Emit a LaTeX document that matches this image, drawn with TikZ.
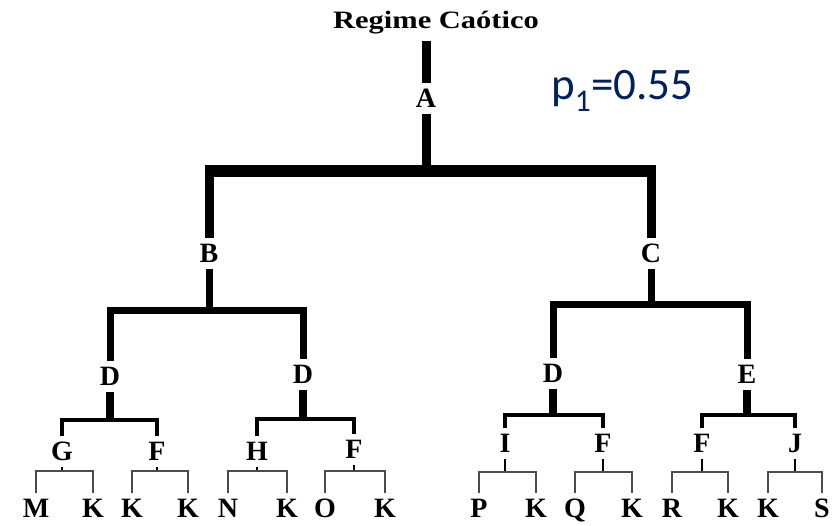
\documentclass[tikz,border=0pt]{standalone}
\usepackage{fontspec}
\setmainfont{Liberation Serif}
\newfontfamily\calibri{Carlito}
\usepackage{xcolor}
\usetikzlibrary{positioning}
\definecolor{navy}{HTML}{002060}

\tikzset{
  letter/.style={font=\fontsize{28}{28}\selectfont\bfseries, inner xsep=0pt, inner ysep=6pt, anchor=base},
  heading/.style={font=\fontsize{25}{25}\selectfont\bfseries, inner sep=6pt, anchor=base},
  lvlone/.style={line width=9pt},
  topbar/.style={line width=12pt},
  lvltwo/.style={line width=7pt},
  stemthree/.style={line width=8pt},
  barthree/.style={line width=4.5pt},
  stemfour/.style={line width=2.5pt},
  leaf/.style={line width=1.8pt, black!70},
}

\begin{document}
\begin{tikzpicture}[x=1pt,y=-1pt]
        \useasboundingbox (0,0) rectangle (836,526);

        \node[heading] (top) at (436,29) {\scalebox{1.22}[1]{Regime Caótico}};
        \node[anchor=base west, inner sep=0pt, text=navy, font=\calibri\fontsize{45}{45}\selectfont] (prob) at (551,100) {p\textsubscript{1}=0.55};

        % inner nodes
        \node[letter] (A) at (426,108) {A};
        \node[letter] (B) at (209,263) {B};
        \node[letter] (C) at (651,263) {C};
        \node[letter] (D1) at (110,386) {D};
        \node[letter] (D2) at (303,384) {D};
        \node[letter] (D3) at (553,383) {D};
        \node[letter] (E) at (747,384) {E};
        \node[letter] (G) at (62,461) {G};
        \node[letter] (F1) at (157,461) {F};
        \node[letter] (H) at (257,461) {H};
        \node[letter] (F2) at (354,459) {F};
        \node[letter] (I) at (505,453) {I};
        \node[letter] (F3) at (603,453) {F};
        \node[letter] (F4) at (702,453) {F};
        \node[letter] (J) at (795,453) {J};

        % leaves
        \node[letter] (M) at (36,518) {M};
        \node[letter] (K1) at (93,518) {K};
        \node[letter] (K2) at (132,518) {K};
        \node[letter] (K3) at (188,518) {K};
        \node[letter] (N) at (228,518) {N};
        \node[letter] (K4) at (287,518) {K};
        \node[letter] (O) at (325,518) {O};
        \node[letter] (K5) at (385,518) {K};
        \node[letter] (P) at (479,518) {P};
        \node[letter] (K6) at (536,518) {K};
        \node[letter] (Q) at (575,518) {Q};
        \node[letter] (K7) at (632,518) {K};
        \node[letter] (R) at (672,518) {R};
        \node[letter] (K8) at (728,518) {K};
        \node[letter] (K9) at (768,518) {K};
        \node[letter] (S) at (822,518) {S};

        % where the branches join
        \coordinate (a0) at (426,171);
        \coordinate (b0) at (209,311);
        \coordinate (c0) at (651,305);
        \coordinate (d1) at (110,420);
        \coordinate (d2) at (303,419);
        \coordinate (d3) at (553,415);
        \coordinate (e0) at (747,415);
        \coordinate (g0) at (62,471);
        \coordinate (f1) at (157,471);
        \coordinate (h0) at (257,471);
        \coordinate (f2) at (354,471);
        \coordinate (i0) at (505,472);
        \coordinate (f3) at (603,472);
        \coordinate (f4) at (702,472);
        \coordinate (j0) at (795,472);

        \draw[lvlone] (A |- top.south) -- (A);
        \draw[lvlone] (A) -- (a0);
        \draw[lvlone] (B) |- (a0) -| (C);
        \draw[topbar] ([xshift=-4.5pt]B |- a0) -- ([xshift=4.5pt]C |- a0);

        \draw[lvltwo] (B) -- (b0);
        \draw[lvltwo] (D1) |- (b0) -| (D2);
        \draw[lvltwo] (C) -- (c0);
        \draw[lvltwo] (D3) |- (c0) -| (E);

        \draw[stemthree] (D1) -- (d1);
        \draw[barthree] (G) |- (d1) -| (F1);
        \draw[stemthree] (D2) -- (d2);
        \draw[barthree] (H) |- (d2) -| (F2);
        \draw[stemthree] (D3) -- (d3);
        \draw[barthree] (I) |- (d3) -| (F3);
        \draw[stemthree] (E) -- (e0);
        \draw[barthree] (F4) |- (e0) -| (J);

        \draw[stemfour] (G) -- (g0);
        \draw[leaf] (M) |- (g0) -| (K1);
        \draw[stemfour] (F1) -- (f1);
        \draw[leaf] (K2) |- (f1) -| (K3);
        \draw[stemfour] (H) -- (h0);
        \draw[leaf] (N) |- (h0) -| (K4);
        \draw[stemfour] (F2) -- (f2);
        \draw[leaf] (O) |- (f2) -| (K5);
        \draw[stemfour] (I) -- (i0);
        \draw[leaf] (P) |- (i0) -| (K6);
        \draw[stemfour] (F3) -- (f3);
        \draw[leaf] (Q) |- (f3) -| (K7);
        \draw[stemfour] (F4) -- (f4);
        \draw[leaf] (R) |- (f4) -| (K8);
        \draw[stemfour] (J) -- (j0);
        \draw[leaf] (K9) |- (j0) -| (S);
\end{tikzpicture}
\end{document}
